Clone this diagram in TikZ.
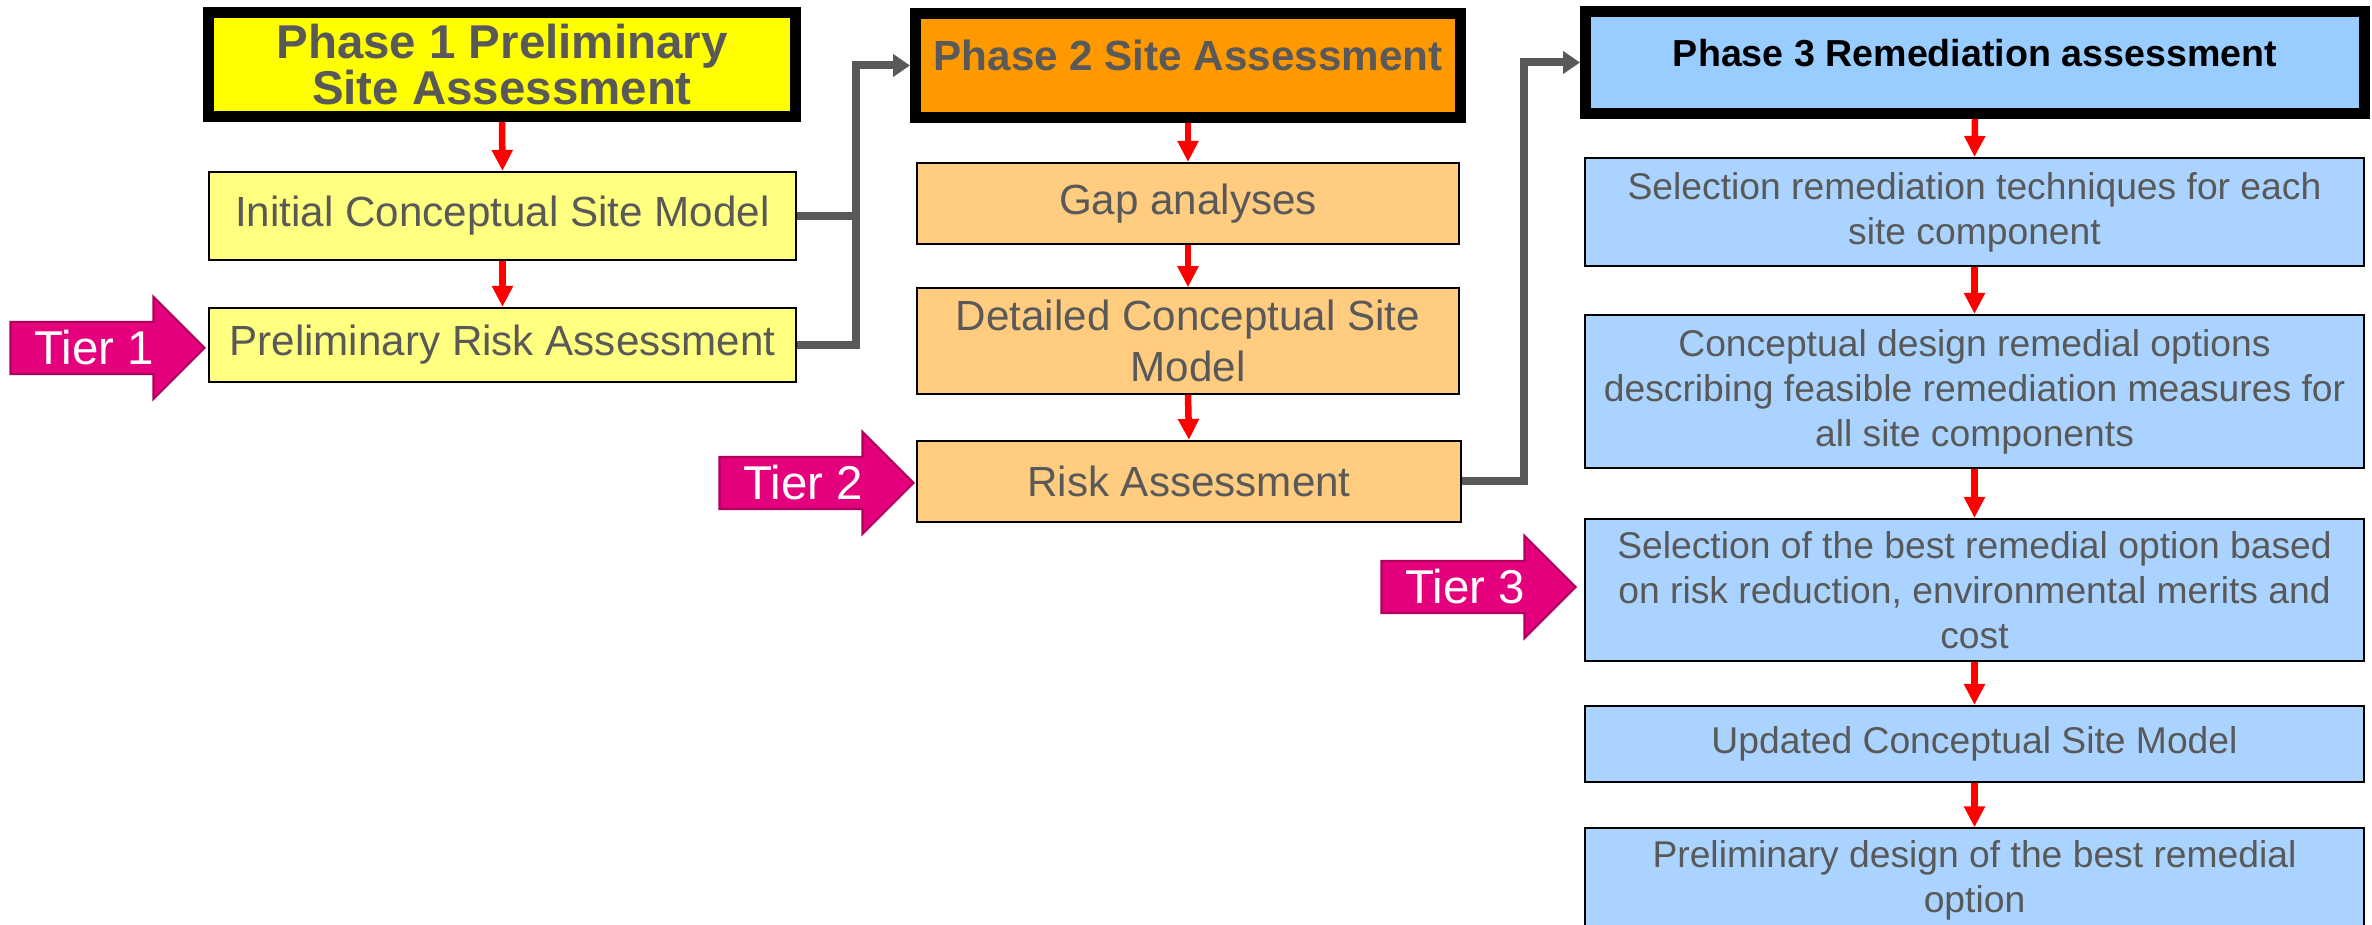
\documentclass[tikz,border=0pt]{standalone}
\usepackage{fontspec}
\setmainfont{Liberation Sans}
\usetikzlibrary{arrows.meta,shapes.arrows}
\definecolor{txtgray}{HTML}{595959}
\definecolor{pyellow}{HTML}{FFFF00}
\definecolor{lyellow}{HTML}{FFFF80}
\definecolor{porange}{HTML}{FF9900}
\definecolor{lorange}{HTML}{FFCC80}
\definecolor{pblue}{HTML}{99CCFF}
\definecolor{lblue}{HTML}{AAD4FF}
\definecolor{tiermag}{HTML}{E4007C}
\definecolor{tierdark}{HTML}{B0005E}
\definecolor{arrred}{HTML}{FF0000}

\begin{document}
\begin{tikzpicture}[
  headbox/.style={draw=black,line width=1.1mm,align=center,text=txtgray,
    font=\bfseries\fontsize{12}{14}\selectfont},
  stepbox/.style={draw=black,line width=.6pt,align=center,text=txtgray,
    font=\fontsize{12}{14.5}\selectfont},
  stepthree/.style={stepbox,fill=lblue,minimum width=7.79cm,
    font=\fontsize{10.6}{12.8}\selectfont},
  tier/.style={single arrow,single arrow head extend=.25cm,anchor=tip,
    fill=tiermag,draw=tierdark,line width=.6pt,text=white,
    font=\fontsize{13.5}{15}\selectfont,minimum height=1.94cm,
    inner ysep=.08cm,text height=.34cm,text depth=0pt},
  flow/.style={draw=arrred,line width=.65mm,-{Triangle[width=2mm,length=2.1mm]}},
  link/.style={draw=txtgray,line width=.8mm},
  linkarrow/.style={link,-{Triangle[width=2.2mm,length=1.7mm]}}]
\useasboundingbox (0,0) rectangle (23.72,-9.25);
\clip (0,0) rectangle (23.72,-9.25);

\node[headbox,fill=pyellow,minimum width=5.87cm,minimum height=1.04cm,
  font=\bfseries\fontsize{13.5}{13.1}\selectfont] (ph1) at (5.02,-.645)
  {Phase 1 Preliminary\\Site Assessment};
\node[stepbox,fill=lyellow,minimum width=5.87cm,minimum height=.88cm] (icsm) at (5.025,-2.16) {Initial Conceptual Site Model};
\node[stepbox,fill=lyellow,minimum width=5.87cm,minimum height=.74cm] (pra) at (5.025,-3.45) {Preliminary Risk Assessment};

\node[headbox,fill=porange,minimum width=5.45cm,minimum height=1.04cm,text depth=.2cm] (ph2) at (11.88,-.655) {Phase 2 Site Assessment};
\node[stepbox,fill=lorange,minimum width=5.42cm,minimum height=.81cm] (gap) at (11.88,-2.035) {Gap analyses};
\node[stepbox,fill=lorange,minimum width=5.42cm,minimum height=1.02cm] (dcsm) at (11.88,-3.41) {Detailed Conceptual Site\\Model};
\node[stepbox,fill=lorange,minimum width=5.44cm,minimum height=.81cm] (ra) at (11.89,-4.815) {Risk Assessment};

\node[headbox,fill=pblue,minimum width=7.79cm,minimum height=1.02cm,text depth=.2cm,text=black,
  font=\bfseries\fontsize{10.7}{13}\selectfont] (ph3) at (19.75,-.625) {Phase 3 Remediation assessment};
\node[stepthree,minimum height=1.08cm] (srt) at (19.745,-2.12) {Selection remediation techniques for each\\site component};
\node[stepthree,minimum height=1.53cm] (cdo) at (19.745,-3.915) {Conceptual design remedial options\\describing feasible remediation measures for\\all site components};
\node[stepthree,minimum height=1.42cm] (sbo) at (19.745,-5.90) {Selection of the best remedial option based\\on risk reduction, environmental merits and\\cost};
\node[stepthree,minimum height=.76cm] (ucsm) at (19.745,-7.44) {Updated Conceptual Site Model};
\node[stepthree,minimum height=1cm] (pdo) at (19.745,-8.80) {Preliminary design of the best remedial\\option};

\node[tier] (t1) at (2.06,-3.48) {Tier 1};
\node[tier] (t2) at (9.15,-4.83) {Tier 2};
\node[tier] (t3) at (15.77,-5.87) {Tier 3};

\draw[flow] (ph1.south) -- (icsm.north);
\draw[flow] (icsm.south) -- (pra.north);
\draw[flow] (ph2.south) -- (gap.north);
\draw[flow] (gap.south) -- (dcsm.north);
\draw[flow] (dcsm.south) -- (ra.north);
\draw[flow] (ph3.south) -- (srt.north);
\draw[flow] (srt.south) -- (cdo.north);
\draw[flow] (cdo.south) -- (sbo.north);
\draw[flow] (sbo.south) -- (ucsm.north);
\draw[flow] (ucsm.south) -- (pdo.north);

\coordinate (j1) at (8.56,-.655);
\draw[link] (icsm.east) -- (icsm.east -| j1);
\draw[linkarrow] (pra.east) -| (j1) -- (ph2.west);
\coordinate (j2) at (15.24,-.625);
\draw[linkarrow] (ra.east) -| (j2) -- (ph3.west);
\end{tikzpicture}
\end{document}
